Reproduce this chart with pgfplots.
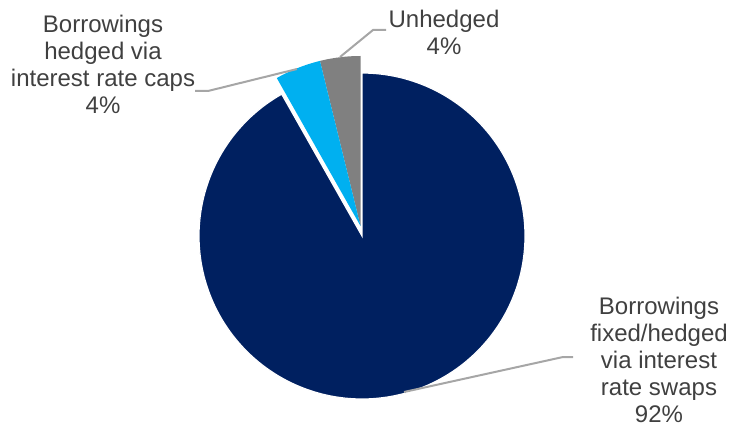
\documentclass[border=0pt]{standalone}
\usepackage{pgfplots}
\pgfplotsset{compat=1.18}
\usepackage{fontspec}
\setmainfont{Liberation Sans}
\definecolor{navy}{HTML}{002060}
\definecolor{lblue}{HTML}{00B0F0}
\definecolor{slgray}{HTML}{808080}
\definecolor{txt}{HTML}{404040}
\definecolor{lead}{HTML}{A6A6A6}
\begin{document}
\begin{tikzpicture}
\begin{axis}[
  x=0.5pt, y=0.5pt, scale only axis,
  xmin=0, xmax=731, ymin=0, ymax=429,
  hide axis, clip=false,
]
% invisible frame for bounding box
\addplot[draw=none] coordinates {(0,0) (731,429)};
% shares (%): swaps 91.8, caps 4.4, unhedged 3.8 -> angles 330.48, 15.84, 13.68
% Borrowings fixed/hedged via interest rate swaps (92%)
\addplot[fill=navy, draw=white, line width=0.6pt, domain=-240.48:90, samples=200, variable=\t]
  ({362+163*cos(t)}, {193+163*sin(t)}) -- (axis cs:362,193) -- cycle;
% Unhedged (4%)
\addplot[fill=slgray, draw=none, domain=90:103.8, samples=20, variable=\t]
  ({360.5+170*cos(t)}, {203+170*sin(t)}) -- (axis cs:360.5,203) -- cycle;
% Borrowings hedged via interest rate caps (4%)
\addplot[fill=lblue, draw=none, domain=103.8:119.5, samples=20, variable=\t]
  ({360.5+170*cos(t)}, {203+170*sin(t)}) -- (axis cs:360.5,203) -- cycle;
% leader lines
\addplot[lead, line width=1pt] coordinates {(195,338) (208,338) (297,360)};
\addplot[lead, line width=1pt] coordinates {(340,372) (373,399) (386,399)};
\addplot[lead, line width=1pt] coordinates {(404,37) (563,72) (573,72)};
% labels
\node[anchor=north, align=center, inner sep=0pt, text=txt, font=\fontsize{12}{13.5}\selectfont]
  at (axis cs:103,414) {Borrowings\\hedged via\\interest rate caps\\4\%};
\node[anchor=north, align=center, inner sep=0pt, text=txt, font=\fontsize{12}{13.5}\selectfont]
  at (axis cs:444,419) {Unhedged\\4\%};
\node[anchor=north, align=center, inner sep=0pt, text=txt, font=\fontsize{12}{13.5}\selectfont]
  at (axis cs:659,132) {Borrowings\\fixed/hedged\\via interest\\rate swaps\\92\%};
\end{axis}
\end{tikzpicture}
\end{document}
